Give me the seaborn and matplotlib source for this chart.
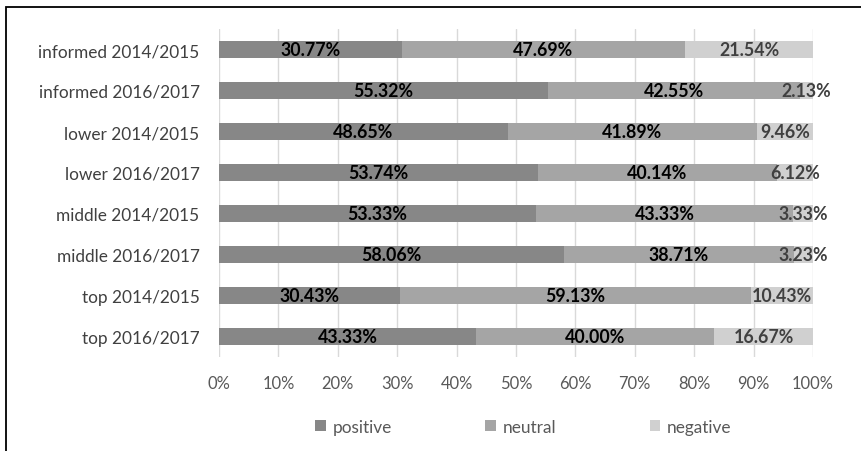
import matplotlib
matplotlib.use("Agg")
import matplotlib.pyplot as plt
import seaborn as sns
import pandas as pd
import numpy as np
from matplotlib.patches import Rectangle, Patch

categories = ["informed 2014/2015", "informed 2016/2017", "lower 2014/2015", "lower 2016/2017",
              "middle 2014/2015", "middle 2016/2017", "top 2014/2015", "top 2016/2017"]
positive = [30.77, 55.32, 48.65, 53.74, 53.33, 58.06, 30.43, 43.33]
neutral = [47.69, 42.55, 41.89, 40.14, 43.33, 38.71, 59.13, 40.00]
negative = [21.54, 2.13, 9.46, 6.12, 3.33, 3.23, 10.43, 16.67]
series = ["positive", "neutral", "negative"]
colors = ["#878787", "#a5a5a5", "#d0d0d0"]
label_colors = ["#000000", "#000000", "#404040"]

sns.set_style("white")
plt.rcParams["font.family"] = ["Lato", "DejaVu Sans"]

df = pd.DataFrame({"cat": categories, "positive": positive, "neutral": neutral, "negative": negative})
df["c1"] = df["positive"]
df["c2"] = df["positive"] + df["neutral"]
df["c3"] = df["c2"] + df["negative"]

fig = plt.figure(figsize=(8.62, 4.52), dpi=100)
renderer = fig.canvas.get_renderer()


def fit_size(s, target_px, weight="normal"):
    t = fig.text(0, 0, s, fontsize=10, fontweight=weight)
    w = t.get_window_extent(renderer).width
    t.remove()
    return 10 * target_px / w


cat_fs = fit_size("informed 2014/2015", 162)
tick_fs = fit_size("100%", 42)
leg_fs = fit_size("positive", 60)
lab_fs = fit_size("30.43%", 60, "bold")

ax = fig.add_axes([219/862, 1-358/452, (813-219)/862, (358-30)/452])

for col, c in zip(["c3", "c2", "c1"], colors[::-1]):
    sns.barplot(data=df, y="cat", x=col, color=c, orient="h", width=0.4,
                saturation=1, ax=ax, zorder=3, edgecolor="none")

ax.set_xlim(0, 100)
ax.set_ylim(7.5, -0.5)
ax.set_xticks(np.arange(0, 101, 10))
ax.set_xticklabels([f"{v}%" for v in range(0, 101, 10)], color="#595959", fontsize=tick_fs)
ax.tick_params(axis="x", length=0, pad=13)
ax.tick_params(axis="y", length=0, pad=14, labelsize=cat_fs, labelcolor="#404040")
ax.set_xlabel("")
ax.set_ylabel("")
ax.grid(axis="x", color="#d9d9d9", lw=1, zorder=0)
for s in ax.spines.values():
    s.set_visible(False)

for i in range(len(categories)):
    starts = [0, positive[i], positive[i] + neutral[i]]
    vals = [positive[i], neutral[i], negative[i]]
    for st, v, lc in zip(starts, vals, label_colors):
        ax.text(st + v / 2, i, f"{v:.2f}%", ha="center", va="center",
                fontsize=lab_fs, fontweight="bold", color=lc, zorder=5)

handles = [Patch(facecolor=c, edgecolor="none") for c in colors]
leg = fig.legend(handles, series, loc="center", bbox_to_anchor=(523.5/862, 1-428/452),
                 ncol=3, frameon=False, fontsize=leg_fs, handlelength=0.6, handleheight=0.6,
                 handletextpad=0.42, columnspacing=5.58 * 12 / leg_fs)
for t in leg.get_texts():
    t.set_color("#595959")

fig.patches.append(Rectangle((6/862, -0.1), 2.0, 1 - 8/452 + 0.1, transform=fig.transFigure,
                             fill=False, edgecolor="#000000", lw=1.3))

fig.savefig("out.png", dpi=100)
